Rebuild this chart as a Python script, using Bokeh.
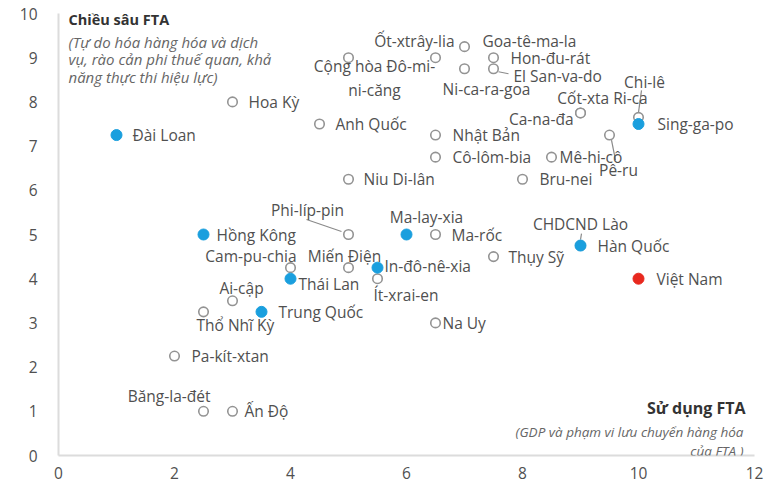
from bokeh.plotting import figure
from bokeh.models import ColumnDataSource, Label, FixedTicker
from bokeh.core.properties import value
from bokeh.embed import file_html
from bokeh.resources import INLINE

# ---------------- data ----------------
countries = ["Đài Loan", "Hoa Kỳ", "Anh Quốc", "Cộng hòa Đô-mi-\nni-căng", "Ốt-xtrây-lia",
             "Goa-tê-ma-la", "Ni-ca-ra-goa", "Hon-đu-rát", "El San-va-do", "Ca-na-đa",
             "Cốt-xta Ri-ca", "Chi-lê", "Sing-ga-po", "Pê-ru", "Nhật Bản",
             "Cô-lôm-bia", "Mê-hi-cô", "Niu Di-lân", "Bru-nei", "Phi-líp-pin",
             "Hồng Kông", "Ma-lay-xia", "Ma-rốc", "CHDCND Lào", "Hàn Quốc",
             "Cam-pu-chia", "Miến Điện", "In-đô-nê-xia", "Thụy Sỹ", "Thái Lan",
             "Ít-xrai-en", "Việt Nam", "Ai-cập", "Thổ Nhĩ Kỳ", "Trung Quốc",
             "Na Uy", "Pa-kít-xtan", "Băng-la-đét", "Ấn Độ"]
fta_use = [1, 3, 4.5, 5, 6.5,
           7, 7, 7.5, 7.5, 9,
           9, 10, 10, 9.5, 6.5,
           6.5, 8.5, 5, 8, 5,
           2.5, 6, 6.5, 9, 9,
           4, 5, 5.5, 7.5, 4,
           5.5, 10, 3, 2.5, 3.5,
           6.5, 2, 2.5, 3]
fta_depth = [7.25, 8, 7.5, 9, 9,
             9.25, 8.75, 9, 8.75, 7.75,
             7.75, 7.65, 7.5, 7.25, 7.25,
             6.75, 6.75, 6.25, 6.25, 5,
             5, 5, 5, 4.75, 4.75,
             4.25, 4.25, 4.25, 4.5, 4,
             4, 4, 3.5, 3.25, 3.25,
             3, 2.25, 1, 1]
group = ["blue", "gray", "gray", "gray", "gray",
         "gray", "gray", "gray", "gray", "gray",
         "gray", "gray", "blue", "gray", "gray",
         "gray", "gray", "gray", "gray", "gray",
         "blue", "blue", "gray", "gray", "blue",
         "gray", "gray", "blue", "gray", "blue",
         "gray", "red", "gray", "gray", "blue",
         "gray", "gray", "gray", "gray"]
x_ticks = [0, 2, 4, 6, 8, 10, 12]
y_ticks = [0, 1, 2, 3, 4, 5, 6, 7, 8, 9, 10]

# ---------------- label layout (screen px offsets) ----------------
label_pos = {
    "Đài Loan": (16, 0, "left"), "Hoa Kỳ": (16, 0, "left"), "Anh Quốc": (16, 0, "left"),
    "Cộng hòa Đô-mi-\nni-căng": (26, 20, "center"), "Ốt-xtrây-lia": (19, -17, "right"),
    "Goa-tê-ma-la": (18, -6, "left"), "Ni-ca-ra-goa": (22, 20, "center"),
    "Hon-đu-rát": (17, 0, "left"), "El San-va-do": (20, 7, "left"),
    "Ca-na-đa": (-7, 6, "right"), "Cốt-xta Ri-ca": (22, -15, "center"),
    "Chi-lê": (6, -35, "center"), "Sing-ga-po": (19, 0, "left"), "Pê-ru": (9, 35, "center"),
    "Nhật Bản": (17, 0, "left"), "Cô-lôm-bia": (17, 0, "left"), "Mê-hi-cô": (8, 0, "left"),
    "Niu Di-lân": (15, 0, "left"), "Bru-nei": (17, 0, "left"),
    "Phi-líp-pin": (-41, -25, "center"), "Hồng Kông": (13, 0, "left"),
    "Ma-lay-xia": (20, -18, "center"), "Ma-rốc": (16, 0, "left"),
    "CHDCND Lào": (0, -22, "center"), "Hàn Quốc": (17, 0, "left"),
    "Cam-pu-chia": (6, -12, "right"), "Miến Điện": (-4, -12, "center"),
    "In-đô-nê-xia": (7, -2, "left"), "Thụy Sỹ": (15, 0, "left"),
    "Thái Lan": (8, 5, "left"), "Ít-xrai-en": (-4, 16, "left"),
    "Việt Nam": (18, 0, "left"), "Ai-cập": (9, -13, "center"),
    "Thổ Nhĩ Kỳ": (-7, 13, "left"), "Trung Quốc": (17, 0, "left"),
    "Na Uy": (7, 0, "left"), "Pa-kít-xtan": (17, 0, "left"),
    "Băng-la-đét": (7, -15, "right"), "Ấn Độ": (12, 0, "left"),
}
leaders = {
    "Chi-lê": (0, -5, 3, -27),
    "Pê-ru": (2, 5, 6, 25),
    "Phi-líp-pin": (-7, -3, -42, -15),
    "CHDCND Lào": (0, -6, 1, -12),
    "El San-va-do": (5, 3, 15, 5),
}

FW, FH = 696, 442
XMAX, YMAX = 12, 10
PXX, PXY = FW / XMAX, FH / YMAX

TEXT = "#505050"
FONT = "Open Sans"
LSIZE = "15.5px"
colors = {"gray": "#ffffff", "blue": "#1a9fde", "red": "#e8281e"}
lines = {"gray": "#939393", "blue": "#1a9fde", "red": "#e8281e"}

p = figure(width=772, height=483, x_range=(0, XMAX), y_range=(0, YMAX),
           output_backend="svg", toolbar_location=None,
           min_border_left=58, min_border_right=18, min_border_top=13, min_border_bottom=28)
p.outline_line_color = None
p.grid.visible = False
p.background_fill_color = "white"
p.border_fill_color = "white"

for ax in (p.xaxis[0], p.yaxis[0]):
    ax.axis_line_color = "#dcdcdc"
    ax.axis_line_width = 2
    ax.major_tick_line_color = None
    ax.minor_tick_line_color = None
    ax.major_label_text_font = FONT
    ax.major_label_text_font_size = "15.5px"
    ax.major_label_text_color = TEXT
p.xaxis[0].ticker = FixedTicker(ticks=x_ticks)
p.yaxis[0].ticker = FixedTicker(ticks=y_ticks)
p.xaxis[0].major_label_standoff = 5
p.yaxis[0].major_label_standoff = 15

# leader lines
lx0, ly0, lx1, ly1 = [], [], [], []
for c, xv, yv in zip(countries, fta_use, fta_depth):
    if c in leaders:
        a, b, cc, d = leaders[c]
        lx0.append(xv + a / PXX); ly0.append(yv - b / PXY)
        lx1.append(xv + cc / PXX); ly1.append(yv - d / PXY)
p.segment(x0=lx0, y0=ly0, x1=lx1, y1=ly1, line_color="#8a8a8a", line_width=1.2)

# points: gray first, then coloured
for g, size, lw in (("gray", 9.5, 1.6), ("blue", 11, 1), ("red", 11, 1)):
    idx = [i for i, gg in enumerate(group) if gg == g]
    src = ColumnDataSource(dict(x=[fta_use[i] for i in idx], y=[fta_depth[i] for i in idx]))
    p.scatter("x", "y", source=src, size=size, fill_color=colors[g],
              line_color=lines[g], line_width=lw)

# labels
lab = ColumnDataSource(dict(
    x=fta_use, y=fta_depth, text=countries,
    dx=[label_pos[c][0] for c in countries],
    dy=[label_pos[c][1] for c in countries],
    align=[label_pos[c][2] for c in countries],
))
p.text("x", "y", text="text", source=lab, x_offset="dx", y_offset="dy",
       text_align="align", text_baseline="middle",
       text_font=value(FONT), text_font_size=LSIZE, text_color=TEXT,
       text_line_height=1.1)

# axis titles
p.add_layout(Label(x=0, y=YMAX, x_offset=10, y_offset=-6, text="Chiều sâu FTA",
                   text_font=FONT, text_font_size="14.5px", text_font_style="bold",
                   text_color="#333333", text_baseline="middle"))
for k, t in enumerate(["(Tự do hóa hàng hóa và dịch", "vụ, rào cản phi thuế quan, khả",
                       "năng thực thi hiệu lực)"]):
    p.add_layout(Label(x=0, y=YMAX, x_offset=10, y_offset=-28 - 17.5 * k, text=t,
                       text_font=FONT, text_font_size="15px", text_font_style="italic",
                       text_color="#666666", text_baseline="middle"))
p.add_layout(Label(x=XMAX, y=0, x_offset=-9, y_offset=48, text="Sử dụng FTA",
                   text_font=FONT, text_font_size="16px", text_font_style="bold",
                   text_color="#333333", text_baseline="middle", text_align="right"))
for k, t in enumerate(["(GDP và phạm vi lưu chuyển hàng hóa", "của FTA )"]):
    p.add_layout(Label(x=XMAX, y=0, x_offset=-11, y_offset=24 - 19 * k, text=t,
                       text_font=FONT, text_font_size="13.5px", text_font_style="italic",
                       text_color="#666666", text_baseline="middle", text_align="right"))

open("out.html", "w").write(file_html(p, INLINE))
